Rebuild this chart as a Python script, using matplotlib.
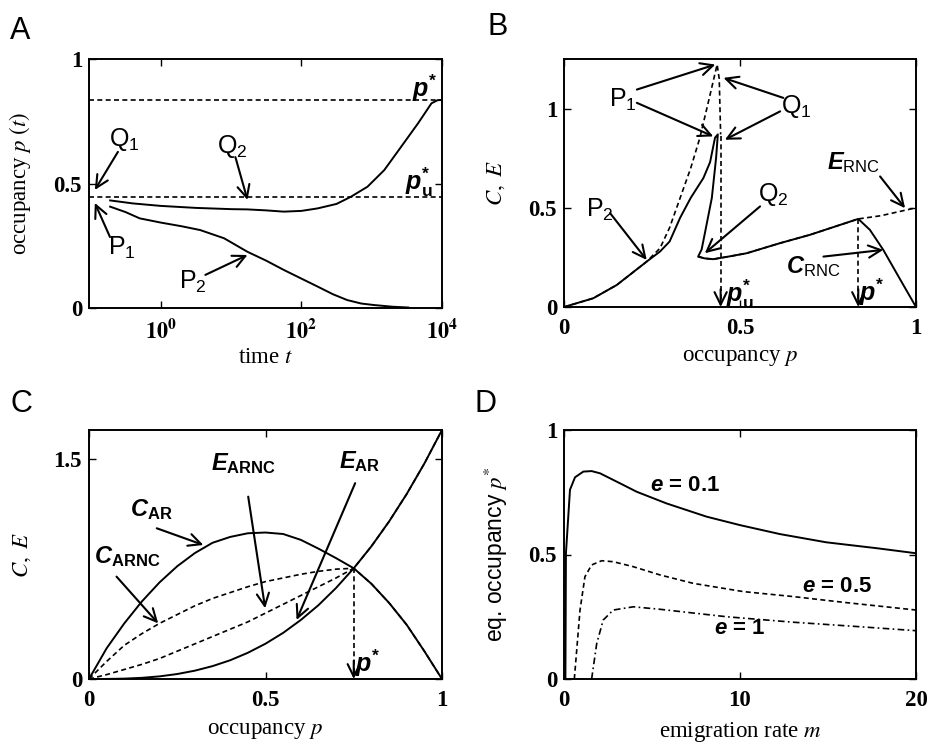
import matplotlib.pyplot as plt
from matplotlib.ticker import NullLocator

plt.rcParams.update({
    "font.family": "Liberation Serif",
    "mathtext.fontset": "stix",
    "mathtext.rm": "Liberation Sans",
    "mathtext.it": "Liberation Sans:italic",
    "mathtext.bf": "Liberation Sans:bold",
    "mathtext.bfit": "Liberation Sans:italic:bold",
    "mathtext.sf": "Liberation Sans",
    "axes.linewidth": 1.4,
    "lines.linewidth": 1.4,
})

# -----------------------------
# Data
# -----------------------------
# A: occupancy vs time (two trajectories)
t_Q = [0.19, 0.4, 1, 3.16, 10, 17, 31.6, 56, 100, 170, 316, 500, 870, 1510, 2630, 4570, 7080, 8710, 10000]
p_Q = [0.432, 0.42, 0.41, 0.402, 0.397, 0.396, 0.392, 0.387, 0.39, 0.40, 0.418, 0.446, 0.487, 0.554,
       0.648, 0.742, 0.822, 0.835, 0.835]
t_P = [0.19, 0.316, 0.5, 1, 2, 3.63, 7.94, 17, 31.6, 56, 100, 170, 282, 447, 708, 1070, 2000, 3310]
p_P = [0.407, 0.385, 0.36, 0.343, 0.328, 0.313, 0.28, 0.226, 0.19, 0.153, 0.118, 0.086, 0.055, 0.032,
       0.018, 0.012, 0.005, 0.002]
p_star = 0.835
p_u_star = 0.446

# B: colonisation C and extinction E against occupancy
pB_C = [0, 0.083, 0.15, 0.235, 0.273, 0.30, 0.33, 0.36, 0.396, 0.415, 0.429, 0.437,
        0.432, 0.42, 0.40, 0.391, 0.381, 0.40, 0.424, 0.47, 0.519, 0.614, 0.699, 0.836,
        0.869, 0.907, 0.945, 1.0]
C_B = [0, 0.044, 0.111, 0.229, 0.28, 0.33, 0.45, 0.55, 0.65, 0.73, 0.853, 0.87,
       0.75, 0.55, 0.37, 0.29, 0.254, 0.245, 0.241, 0.255, 0.271, 0.322, 0.364, 0.444,
       0.389, 0.288, 0.17, 0]
pB_E = [0, 0.083, 0.15, 0.235, 0.273, 0.30, 0.33, 0.36, 0.386, 0.415, 0.435, 0.441, 0.445]
E_B = [0, 0.044, 0.111, 0.229, 0.297, 0.40, 0.55, 0.70, 0.853, 1.07, 1.222, 1.15, 0.87]
pB_Erest = [0.381, 0.40, 0.424, 0.47, 0.519, 0.614, 0.699, 0.836, 0.9, 1.0]
E_Brest = [0.254, 0.245, 0.241, 0.255, 0.271, 0.322, 0.364, 0.444, 0.46, 0.5]
pB_u_star = 0.445
pB_u_top = 0.86
pB_star = 0.836
pB_star_top = 0.444

# C: area-restricted and random search
pC = [0, 0.05, 0.1, 0.15, 0.2, 0.25, 0.3, 0.35, 0.4, 0.45, 0.5, 0.55, 0.6, 0.65, 0.7,
      0.75, 0.8, 0.85, 0.9, 0.95, 1.0]
C_AR = [0, 0.21, 0.38, 0.53, 0.66, 0.77, 0.86, 0.93, 0.97, 0.995, 1.0, 0.99, 0.95, 0.89,
        0.825, 0.756, 0.65, 0.52, 0.37, 0.19, 0]
E_AR = [0, 0.0004, 0.0026, 0.008, 0.018, 0.034, 0.057, 0.088, 0.128, 0.179, 0.241, 0.315,
        0.403, 0.504, 0.622, 0.756, 0.906, 1.075, 1.263, 1.471, 1.70]
C_ARNC = [0, 0.12, 0.23, 0.31, 0.38, 0.44, 0.50, 0.55, 0.59, 0.63, 0.665, 0.69, 0.715,
          0.735, 0.75, 0.756, 0.65, 0.52, 0.37, 0.19, 0]
E_ARNC = [0, 0.03, 0.065, 0.10, 0.14, 0.19, 0.24, 0.29, 0.34, 0.39, 0.45, 0.51, 0.57,
          0.63, 0.69, 0.756, 0.906, 1.075, 1.263, 1.471, 1.70]
pC_star = 0.75
pC_star_top = 0.756

# D: equilibrium occupancy vs emigration rate
m_01 = [0.08, 0.11, 0.34, 0.625, 1.1, 1.57, 2.05, 3.18, 4.13, 5.83, 8.1, 10.0, 12.27, 14.9, 17.8, 20]
p_01 = [0, 0.505, 0.76, 0.81, 0.833, 0.835, 0.826, 0.786, 0.752, 0.705, 0.652, 0.618, 0.582,
        0.549, 0.525, 0.505]
m_05 = [0.587, 0.91, 1.19, 1.57, 2.14, 2.8, 3.94, 5.45, 7.35, 10.19, 13.03, 15.87, 20]
p_05 = [0, 0.277, 0.411, 0.458, 0.475, 0.471, 0.451, 0.418, 0.384, 0.351, 0.331, 0.308, 0.277]
m_1 = [1.57, 1.86, 2.23, 2.8, 3.94, 5.45, 9.24, 13.03, 16.8, 20]
p_1 = [0, 0.143, 0.237, 0.277, 0.29, 0.28, 0.25, 0.228, 0.21, 0.194]

W, H = 927, 746
fig = plt.figure(figsize=(W / 100, H / 100), dpi=100)


def px_axes(x0, x1, y0, y1):
    return fig.add_axes([x0 / W, 1 - y1 / H, (x1 - x0) / W, (y1 - y0) / H])


def style(ax):
    ax.tick_params(direction='in', top=True, right=True, length=5, width=1.0, labelsize=16)
    ax.tick_params(axis='x', pad=8)
    ax.tick_params(axis='y', pad=5)


def lab(ax, x, y, s, size=18, **kw):
    ax.text(x, y, s, fontsize=size, family='Liberation Sans', math_fontfamily='custom',
            ha='center', va='center', **kw)


def arrow(ax, tail, head, **kw):
    ax.annotate('', xy=head, xytext=tail,
                arrowprops=dict(arrowstyle='->,head_length=0.45,head_width=0.22', lw=1.5,
                                color='k', mutation_scale=20, shrinkA=0, shrinkB=0, **kw))


def drop(ax, x, ytop):
    ax.plot([x, x], [ytop, 0.02 * ax.get_ylim()[1]], color='k', lw=1.2, dashes=(3, 2))
    arrow(ax, (x, 0.07 * ax.get_ylim()[1]), (x, 0))


dash = dict(color='k', lw=1.2, dashes=(3, 2))
bold = dict(fontsize=16.5, fontweight='bold')
lbl = 16.5

# ---------------- A ----------------
axA = px_axes(89, 442, 59, 308)
style(axA)
axA.set_xscale('log')
axA.plot(t_Q, p_Q, color='k')
axA.plot(t_P, p_P, color='k')
axA.axhline(p_star, **dash)
axA.axhline(p_u_star, **dash)
axA.set_xlim(0.095, 1e4)
axA.set_ylim(0, 1)
axA.set_xticks([1, 1e2, 1e4], [r'$\mathbf{10^{0}}$', r'$\mathbf{10^{2}}$', r'$\mathbf{10^{4}}$'], fontsize=16)
axA.xaxis.set_minor_locator(NullLocator())
axA.set_yticks([0, 0.5, 1], ['0', '0.5', '1'], **bold)
axA.set_xlabel(r'time $t$', fontsize=lbl)
axA.set_ylabel(r'occupancy $p\ (t)$', fontsize=lbl)
axA.xaxis.set_label_coords(0.5, -0.157)
axA.yaxis.set_label_coords(-0.159, 0.5)

lab(axA, 0.3, 0.675, r'Q$_{1}$')
arrow(axA, (0.245, 0.627), (0.115, 0.474))
lab(axA, 0.28, 0.241, r'P$_{1}$')
arrow(axA, (0.189, 0.285), (0.115, 0.422))
lab(axA, 10.4, 0.647, r'Q$_{2}$')
arrow(axA, (11.5, 0.606), (17.1, 0.434))
lab(axA, 2.9, 0.104, r'P$_{2}$')
arrow(axA, (4.3, 0.133), (17.1, 0.213))
lab(axA, 5580, 0.884, r'$\mathbfit{p}^{\mathbf{*}}$')
lab(axA, 4740, 0.506, r'$\mathbfit{p}_{\mathbf{u}}^{\mathbf{*}}$')

# ---------------- B ----------------
axB = px_axes(564, 916, 59, 307)
style(axB)
axB.plot(pB_C, C_B, color='k')
axB.plot(pB_E, E_B, **dash)
axB.plot(pB_Erest, E_Brest, **dash)
drop(axB, pB_u_star, pB_u_top)
drop(axB, pB_star, pB_star_top)
axB.set_xlim(0, 1)
axB.set_ylim(0, 1.25)
axB.set_xticks([0, 0.5, 1], ['0', '0.5', '1'], **bold)
axB.set_yticks([0, 0.5, 1], ['0', '0.5', '1'], **bold)
axB.set_xlabel(r'occupancy $p$', fontsize=lbl)
axB.set_ylabel(r'$C,\ E$', fontsize=lbl)
axB.xaxis.set_label_coords(0.5, -0.161)
axB.yaxis.set_label_coords(-0.162, 0.5)

lab(axB, 0.168, 1.045, r'P$_{1}$')
arrow(axB, (0.207, 1.096), (0.43, 1.222))
arrow(axB, (0.207, 1.029), (0.424, 0.86))
lab(axB, 0.661, 1.012, r'Q$_{1}$')
arrow(axB, (0.623, 1.054), (0.453, 1.155))
arrow(axB, (0.614, 0.986), (0.457, 0.843))
lab(axB, 0.822, 0.726, r'$\mathbfit{E}_{\mathrm{RNC}}$', size=17)
arrow(axB, (0.898, 0.658), (0.969, 0.498))
lab(axB, 0.594, 0.566, r'Q$_{2}$')
arrow(axB, (0.557, 0.507), (0.40, 0.271))
lab(axB, 0.102, 0.49, r'P$_{2}$')
arrow(axB, (0.131, 0.473), (0.235, 0.237))
lab(axB, 0.708, 0.204, r'$\mathbfit{C}_{\mathrm{RNC}}$', size=17)
arrow(axB, (0.737, 0.254), (0.907, 0.288))
lab(axB, 0.50, 0.065, r'$\mathbfit{p}_{\mathbf{u}}^{\mathbf{*}}$')
lab(axB, 0.872, 0.075, r'$\mathbfit{p}^{\mathbf{*}}$')

# ---------------- C ----------------
axC = px_axes(89, 442, 430, 679)
style(axC)
axC.plot(pC, C_AR, color='k')
axC.plot(pC, E_AR, color='k')
axC.plot(pC, C_ARNC, **dash)
axC.plot(pC, E_ARNC, **dash)
drop(axC, pC_star, pC_star_top)
axC.set_xlim(0, 1)
axC.set_ylim(0, 1.70)
axC.set_xticks([0, 0.5, 1], ['0', '0.5', '1'], **bold)
axC.set_yticks([0, 1.5], ['0', '1.5'], **bold)
axC.set_xlabel(r'occupancy $p$', fontsize=lbl)
axC.set_ylabel(r'$C,\ E$', fontsize=lbl)
axC.xaxis.set_label_coords(0.5, -0.165)
axC.yaxis.set_label_coords(-0.159, 0.5)

lab(axC, 0.437, 1.473, r'$\mathbfit{E}_{\mathbf{ARNC}}$', size=17)
arrow(axC, (0.451, 1.245), (0.499, 0.483))
lab(axC, 0.768, 1.484, r'$\mathbfit{E}_{\mathbf{AR}}$', size=17)
arrow(axC, (0.754, 1.337), (0.588, 0.403))
lab(axC, 0.178, 1.154, r'$\mathbfit{C}_{\mathbf{AR}}$', size=17)
arrow(axC, (0.192, 1.029), (0.324, 0.915))
lab(axC, 0.107, 0.835, r'$\mathbfit{C}_{\mathbf{ARNC}}$', size=17)
arrow(axC, (0.078, 0.699), (0.196, 0.38))
lab(axC, 0.79, 0.11, r'$\mathbfit{p}^{\mathbf{*}}$')

# ---------------- D ----------------
axD = px_axes(564, 916, 430, 679)
style(axD)
axD.plot(m_01, p_01, color='k')
axD.plot(m_05, p_05, **dash)
axD.plot(m_1, p_1, color='k', lw=1.2, dashes=(4, 2, 1, 2))
axD.set_xlim(0, 20)
axD.set_ylim(0, 1)
axD.set_xticks([0, 10, 20], ['0', '10', '20'], **bold)
axD.set_yticks([0, 0.5, 1], ['0', '0.5', '1'], **bold)
axD.set_xlabel(r'emigration rate $m$', fontsize=lbl)
axD.set_ylabel(r'eq. occupancy $p^{*}$', fontsize=lbl, family='Liberation Sans')
axD.xaxis.set_label_coords(0.5, -0.165)
axD.yaxis.set_label_coords(-0.153, 0.5)

lab(axD, 6.9, 0.779, r'$\mathbfit{e}$ = 0.1', size=16, fontweight='bold')
lab(axD, 15.5, 0.371, r'$\mathbfit{e}$ = 0.5', size=16, fontweight='bold')
lab(axD, 10.0, 0.204, r'$\mathbfit{e}$ = 1', size=16, fontweight='bold')

# panel letters
for letter, x, y in [('A', 10, 39), ('B', 487, 35), ('C', 10, 412), ('D', 475, 412)]:
    fig.text(x / W, 1 - y / H, letter, fontsize=22, family='Liberation Sans', va='baseline')

fig.savefig('out.png', dpi=100)
